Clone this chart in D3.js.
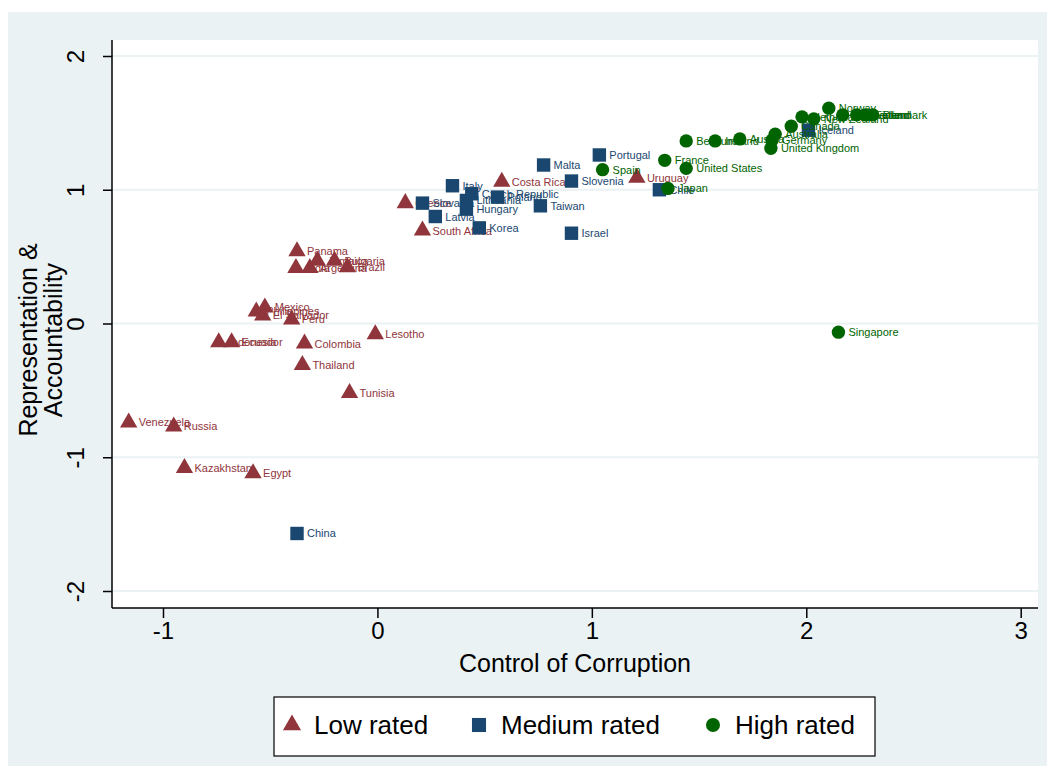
<!DOCTYPE html>
<html>
<head>
<meta charset="utf-8">
<script src="https://cdn.jsdelivr.net/npm/d3@7"></script>
<style>
  body { margin: 0; background: #fff; }
  text { font-family: "Liberation Sans", Arial, sans-serif; }
</style>
</head>
<body>
<div id="chart"></div>
<script>
// values: control of corruption (cc), representation & accountability (ra)
var lowRated = [
    {country: 'Venezuela', cc: -1.16, ra: -0.74},
    {country: 'Russia', cc: -0.95, ra: -0.77},
    {country: 'Kazakhstan', cc: -0.90, ra: -1.08},
    {country: 'Egypt', cc: -0.58, ra: -1.12},
    {country: 'Indonesia', cc: -0.74, ra: -0.14},
    {country: 'Ecuador', cc: -0.68, ra: -0.14},
    {country: 'Philippines', cc: -0.565, ra: 0.09},
    {country: 'Mexico', cc: -0.525, ra: 0.12},
    {country: 'El Salvador', cc: -0.535, ra: 0.06},
    {country: 'Peru', cc: -0.40, ra: 0.03},
    {country: 'Colombia', cc: -0.34, ra: -0.15},
    {country: 'Thailand', cc: -0.35, ra: -0.31},
    {country: 'Tunisia', cc: -0.13, ra: -0.52},
    {country: 'Lesotho', cc: -0.01, ra: -0.08},
    {country: 'Panama', cc: -0.375, ra: 0.54},
    {country: 'India', cc: -0.38, ra: 0.415},
    {country: 'Argentina', cc: -0.315, ra: 0.415},
    {country: 'Jamaica', cc: -0.28, ra: 0.47},
    {country: 'Bulgaria', cc: -0.20, ra: 0.47},
    {country: 'Brazil', cc: -0.14, ra: 0.42},
    {country: 'Greece', cc: 0.13, ra: 0.90},
    {country: 'South Africa', cc: 0.21, ra: 0.695},
    {country: 'Costa Rica', cc: 0.58, ra: 1.06},
    {country: 'Uruguay', cc: 1.21, ra: 1.09}
];
var mediumRated = [
    {country: 'China', cc: -0.375, ra: -1.57},
    {country: 'Slovakia', cc: 0.21, ra: 0.90},
    {country: 'Latvia', cc: 0.27, ra: 0.80},
    {country: 'Italy', cc: 0.35, ra: 1.03},
    {country: 'Lithuania', cc: 0.415, ra: 0.92},
    {country: 'Czech Republic', cc: 0.44, ra: 0.97},
    {country: 'Hungary', cc: 0.415, ra: 0.855},
    {country: 'Poland', cc: 0.56, ra: 0.945},
    {country: 'Korea', cc: 0.475, ra: 0.715},
    {country: 'Taiwan', cc: 0.76, ra: 0.88},
    {country: 'Malta', cc: 0.775, ra: 1.185},
    {country: 'Slovenia', cc: 0.905, ra: 1.065},
    {country: 'Israel', cc: 0.905, ra: 0.675},
    {country: 'Portugal', cc: 1.035, ra: 1.26},
    {country: 'Chile', cc: 1.315, ra: 1.00},
    {country: 'Iceland', cc: 2.01, ra: 1.445}
];
var highRated = [
    {country: 'Singapore', cc: 2.15, ra: -0.065},
    {country: 'Spain', cc: 1.05, ra: 1.15},
    {country: 'France', cc: 1.34, ra: 1.22},
    {country: 'Japan', cc: 1.355, ra: 1.01},
    {country: 'United States', cc: 1.44, ra: 1.16},
    {country: 'Belgium', cc: 1.44, ra: 1.365},
    {country: 'Ireland', cc: 1.575, ra: 1.365},
    {country: 'Austria', cc: 1.69, ra: 1.38},
    {country: 'Germany', cc: 1.84, ra: 1.37},
    {country: 'Australia', cc: 1.855, ra: 1.415},
    {country: 'United Kingdom', cc: 1.835, ra: 1.31},
    {country: 'Canada', cc: 1.93, ra: 1.475},
    {country: 'Netherlands', cc: 1.98, ra: 1.545},
    {country: 'New Zealand', cc: 2.035, ra: 1.53},
    {country: 'Norway', cc: 2.105, ra: 1.61},
    {country: 'Switzerland', cc: 2.17, ra: 1.56},
    {country: 'Sweden', cc: 2.235, ra: 1.56},
    {country: 'Finland', cc: 2.275, ra: 1.56},
    {country: 'Denmark', cc: 2.31, ra: 1.56}
];
var xTicks = [-1, 0, 1, 2, 3];
var yTicks = [-2, -1, 0, 1, 2];
var seriesNames = ['Low rated', 'Medium rated', 'High rated'];

var W = 1047, H = 772;
var bgColor = '#eaf2f3';
var colors = ['#90353b', '#1a476f', '#006400'];
var symbols = [d3.symbolTriangle, d3.symbolSquare, d3.symbolCircle];
var markerSizes = [130, 180, 140];

var plot = {left: 112, right: 1038, top: 40, bottom: 608};

var svg = d3.select('#chart').append('svg')
    .attr('width', W)
    .attr('height', H);

svg.append('rect')
    .attr('x', 8).attr('y', 12)
    .attr('width', W - 8).attr('height', 754)
    .style('fill', bgColor);

svg.append('rect')
    .attr('x', plot.left).attr('y', plot.top)
    .attr('width', plot.right - plot.left).attr('height', plot.bottom - plot.top)
    .style('fill', '#fff');

var x = d3.scaleLinear().domain([-1, 3]).range([163, 1020.7]);
var y = d3.scaleLinear().domain([-2, 2]).range([591, 56]);

// grid
svg.append('g').selectAll('line')
    .data(yTicks)
    .enter().append('line')
    .attr('x1', plot.left).attr('x2', plot.right)
    .attr('y1', function (d) { return y(d); })
    .attr('y2', function (d) { return y(d); })
    .style('stroke', bgColor)
    .style('stroke-width', 2);

// axes
var xAxis = d3.axisBottom(x).tickValues(xTicks).tickSize(10).tickSizeOuter(0).tickPadding(4)
    .tickFormat(d3.format('d'));
var yAxis = d3.axisLeft(y).tickValues(yTicks).tickSize(9).tickSizeOuter(0).tickPadding(5)
    .tickFormat(d3.format('d'));

var gx = svg.append('g')
    .attr('transform', 'translate(0,' + plot.bottom + ')')
    .call(xAxis);
gx.select('.domain').attr('d', 'M' + plot.left + ',0H' + plot.right);
gx.selectAll('text').style('font-size', '24px').attr('fill', '#000')
    .text(function (d) { return d < 0 ? '-' + Math.abs(d) : d; });

var gy = svg.append('g')
    .attr('transform', 'translate(' + plot.left + ',0)')
    .call(yAxis);
gy.select('.domain').attr('d', 'M0,' + plot.top + 'V' + plot.bottom);
gy.selectAll('text')
    .style('font-size', '24px')
    .attr('fill', '#000')
    .style('text-anchor', 'middle')
    .attr('x', 0).attr('dy', 0)
    .attr('transform', function (d) { return 'translate(-28,0) rotate(-90)'; })
    .text(function (d) { return d < 0 ? '-' + Math.abs(d) : d; });
svg.selectAll('.domain, .tick line').style('stroke', '#000').style('stroke-width', 1.5);

// axis titles
svg.append('text')
    .attr('x', (plot.left + plot.right) / 2)
    .attr('y', 672)
    .attr('text-anchor', 'middle')
    .style('font-size', '25px')
    .text('Control of Corruption');

var yt = svg.append('text')
    .attr('transform', 'translate(37,340) rotate(-90)')
    .attr('text-anchor', 'middle')
    .style('font-size', '25px');
yt.append('tspan').attr('x', 0).attr('dy', 0).text('Representation &');
yt.append('tspan').attr('x', 0).attr('dy', 25).text('Accountability');

// points
var groups = [lowRated, mediumRated, highRated];
groups.forEach(function (data, i) {
    var g = svg.append('g').attr('class', 'series');
    g.selectAll('text')
        .data(data)
        .enter().append('text')
        .attr('x', function (d) { return x(d.cc) + 10; })
        .attr('y', function (d) { return y(d.ra) + 4; })
        .style('font-size', '11px')
        .style('fill', colors[i])
        .text(function (d) { return d.country; });
    g.selectAll('path')
        .data(data)
        .enter().append('path')
        .attr('d', d3.symbol().type(symbols[i]).size(markerSizes[i]))
        .attr('transform', function (d) { return 'translate(' + x(d.cc) + ',' + y(d.ra) + ')'; })
        .style('fill', colors[i]);
});

// legend
var legend = svg.append('g');
legend.append('rect')
    .attr('x', 274).attr('y', 697)
    .attr('width', 601).attr('height', 59)
    .style('fill', '#fff')
    .style('stroke', '#000')
    .style('stroke-width', 1.2);
var legX = [292, 479, 713];
seriesNames.forEach(function (name, i) {
    legend.append('path')
        .attr('d', d3.symbol().type(symbols[i]).size(markerSizes[i] * 1.1))
        .attr('transform', 'translate(' + legX[i] + ',725)')
        .style('fill', colors[i]);
    legend.append('text')
        .attr('x', legX[i] + 22)
        .attr('y', 734)
        .style('font-size', '26px')
        .text(name);
});
</script>
</body>
</html>
